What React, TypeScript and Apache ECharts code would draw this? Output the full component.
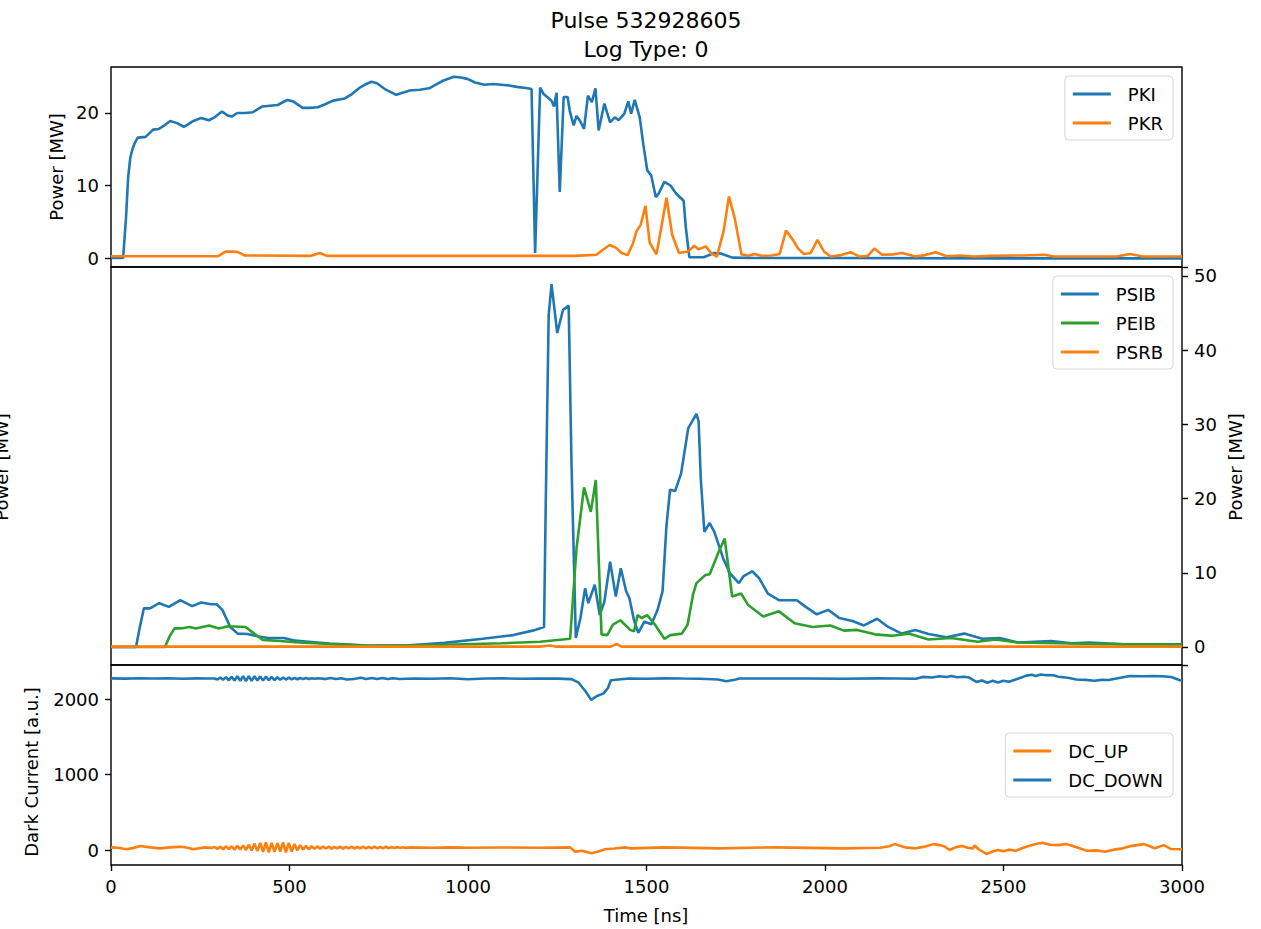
import React, { useEffect, useRef } from "react";
import * as echarts from "echarts";

// ---------- ticks ----------
const timeTicks = [0, 500, 1000, 1500, 2000, 2500, 3000];
const pkTicks = [0, 10, 20];
const beamTicks = [0, 10, 20, 30, 40, 50];
const dcTicks = [0, 1000, 2000];

// ---------- klystron power [ns, MW] ----------
const PKI: [number, number][] = [
  [0, 0], [34, 0], [42, 5.5], [48, 11.1], [54, 13.8], [60, 15.0], [66, 15.8], [75, 16.6], [97, 16.7], [118, 17.7], [134, 17.8],
  [150, 18.3], [166, 18.9], [185, 18.6], [204, 18.1], [218, 18.5], [231, 18.9], [252, 19.3], [274, 19.0], [290, 19.4], [311, 20.2],
  [325, 19.7], [338, 19.5], [354, 20.0], [375, 20.0], [397, 20.1], [424, 20.9], [445, 21.0], [467, 21.1], [494, 21.8], [510, 21.6], [537, 20.7],
  [558, 20.7], [579, 20.8], [600, 21.2], [622, 21.7], [655, 22.0], [675, 22.6], [697, 23.5], [715, 24.0], [730, 24.3], [745, 24.1], [767, 23.3], [799, 22.5],
  [837, 23.1], [865, 23.2], [891, 23.4], [910, 23.9], [928, 24.4], [960, 25.0], [980, 24.9], [998, 24.7], [1020, 24.2], [1046, 23.9], [1070, 24.0], [1094, 23.9], [1115, 23.8], [1137, 23.6],
  [1167, 23.4], [1178, 23.3], [1188, 0.7], [1202, 23.5], [1212, 22.6], [1234, 21.7], [1241, 20.9],
  [1248, 22.8], [1257, 9.1], [1268, 22.2], [1279, 22.2], [1285, 20.3], [1296, 18.3], [1304, 19.6],
  [1314, 18.9], [1325, 17.8], [1336, 22.4], [1347, 21.5], [1357, 23.4], [1366, 17.6], [1382, 21.3],
  [1398, 18.7], [1411, 19.4], [1422, 19.0], [1438, 19.9], [1449, 21.6], [1457, 19.9], [1467, 21.8],
  [1481, 19.4], [1491, 15.7], [1502, 12.1], [1513, 11.4], [1526, 8.4], [1534, 8.9], [1550, 10.5],
  [1567, 10.0], [1583, 8.9], [1604, 7.9], [1610, 4.3], [1620, 0.1], [1660, 0.1], [1690, 0.7], [1710, 0.6],
  [1740, 0.05], [1800, 0.0], [2000, 0.0], [2500, -0.05], [3000, -0.05],
];
const PKR: [number, number][] = [
  [0, 0.25], [300, 0.25], [322, 0.9], [354, 0.85], [375, 0.35], [560, 0.3], [585, 0.7], [605, 0.3],
  [1300, 0.3], [1360, 0.45], [1380, 1.2], [1397, 1.8], [1415, 1.4], [1430, 0.7], [1447, 0.4], [1462, 2.0],
  [1472, 3.7], [1484, 4.6], [1497, 7.2], [1509, 2.1], [1528, 0.5], [1541, 4.1], [1556, 8.3], [1572, 3.2],
  [1591, 0.7], [1616, 0.9], [1634, 1.7], [1645, 1.2], [1651, 1.3], [1666, 1.6], [1682, 0.6], [1697, 0.2],
  [1716, 3.7], [1731, 8.5], [1747, 5.5], [1766, 0.5], [1785, 0.3], [1803, 0.55], [1822, 0.3], [1850, 0.35],
  [1873, 0.55], [1891, 3.8], [1910, 2.5], [1925, 1.3], [1941, 0.55], [1960, 0.7], [1979, 2.5], [1997, 0.9],
  [2016, 0.2], [2045, 0.4], [2072, 0.8], [2097, 0.2], [2120, 0.3], [2138, 1.3], [2160, 0.45], [2190, 0.5],
  [2216, 0.7], [2253, 0.2], [2280, 0.4], [2310, 0.8], [2341, 0.25], [2379, 0.35], [2416, 0.2], [2466, 0.3],
  [2554, 0.35], [2616, 0.45], [2641, 0.2], [2816, 0.2], [2854, 0.55], [2891, 0.2], [3000, 0.2],
];

// ---------- beam power [ns, MW] ----------
const PSIB: [number, number][] = [
  [0, 0], [70, 0], [80, 2.5], [92, 5.2], [109, 5.2], [135, 5.9], [162, 5.4], [194, 6.3], [227, 5.5],
  [253, 6.0], [280, 5.75], [296, 5.75], [312, 5.0], [334, 2.7], [355, 1.8], [382, 1.75], [414, 1.4],
  [441, 1.2], [484, 1.2], [516, 0.85], [553, 0.7], [612, 0.45], [720, 0.2], [827, 0.2], [934, 0.55],
  [1041, 1.1], [1127, 1.6], [1181, 2.2], [1213, 2.7], [1218, 20], [1226, 44.7], [1234, 48.9], [1250, 42.3],
  [1266, 45.4], [1282, 46.0], [1290, 24.5], [1302, 1.2], [1315, 3.9], [1328, 7.9], [1337, 5.9], [1355, 8.4],
  [1369, 4.3], [1382, 6.1], [1398, 11.5], [1414, 6.8], [1428, 10.6], [1443, 7.5], [1452, 6.6], [1465, 3.6],
  [1477, 1.9], [1494, 3.4], [1514, 3.05], [1531, 5.0], [1545, 7.5], [1556, 16.4], [1566, 21.2], [1580, 21.0],
  [1597, 23.4], [1617, 29.5], [1640, 31.4], [1646, 30.4], [1652, 22.7], [1662, 15.5], [1677, 16.7],
  [1690, 15.5], [1715, 11.9], [1734, 9.9], [1759, 8.6], [1771, 9.5], [1796, 10.2], [1815, 9.3], [1840, 7.2],
  [1871, 6.3], [1902, 6.3], [1921, 6.3], [1946, 5.4], [1977, 4.4], [2009, 5.0], [2040, 3.9], [2077, 3.5],
  [2109, 2.9], [2146, 3.8], [2177, 2.7], [2215, 1.8], [2253, 2.3], [2290, 1.75], [2340, 1.3], [2390, 1.8],
  [2440, 1.1], [2490, 1.2], [2540, 0.6], [2634, 0.8], [2690, 0.5], [2740, 0.6], [2840, 0.35], [3000, 0.35],
];
const PEIB: [number, number][] = [
  [0, 0], [151, 0], [165, 1.5], [178, 2.5], [194, 2.5], [221, 2.7], [237, 2.5], [275, 2.9], [302, 2.5],
  [328, 2.8], [377, 2.7], [393, 2.1], [425, 0.95], [473, 0.8], [527, 0.6], [612, 0.4], [720, 0.15],
  [934, 0.3], [1095, 0.5], [1202, 0.7], [1286, 1.1], [1304, 13.3], [1325, 21.5], [1344, 18.2], [1358, 22.5],
  [1374, 1.7], [1390, 1.6], [1406, 3.0], [1427, 3.6], [1454, 2.3], [1465, 2.1], [1475, 4.3], [1486, 3.9],
  [1502, 4.3], [1524, 3.0], [1550, 1.1], [1567, 1.6], [1599, 1.8], [1615, 3.0], [1631, 7.2], [1640, 8.6],
  [1665, 9.7], [1677, 9.8], [1702, 12.8], [1719, 14.6], [1740, 6.8], [1765, 7.2], [1784, 5.7], [1827, 4.1],
  [1871, 4.8], [1915, 3.2], [1965, 2.7], [2015, 2.9], [2053, 2.2], [2090, 2.3], [2140, 1.7], [2190, 1.5],
  [2234, 1.8], [2290, 1.0], [2353, 1.2], [2428, 0.7], [2478, 1.0], [2540, 0.6], [2653, 0.5], [2840, 0.35],
  [3000, 0.3],
];
const PSRB: [number, number][] = [
  [0, 0.05], [1200, 0.05], [1230, 0.2], [1245, 0.05], [1400, 0.05], [1417, 0.4], [1430, 0.05], [3000, 0.05],
];

// ---------- dark current [ns, a.u.] ----------
const DC_UP: [number, number][] = [
  [0, 35], [20, 30], [43, 9], [60, 25], [82, 52], [110, 35], [137, 22], [165, 35], [196, 44], [215, 30],
  [230, 9], [250, 25], [264, 35], [280, 28], [290, 40], [298, 15], [306, 45], [314, 10], [322, 48], [330, 12],
  [338, 50], [346, 5], [354, 55], [362, 8], [370, 60], [378, 0], [386, 70], [394, -5], [402, 85], [410, -15],
  [418, 95], [426, -25], [434, 100], [442, -30], [450, 95], [458, -25], [466, 90], [474, -20], [482, 100],
  [490, -30], [498, 95], [506, -20], [514, 80], [522, -5], [530, 65], [538, 5], [546, 55], [554, 10],
  [562, 50], [570, 15], [578, 48], [586, 18], [594, 45], [602, 20], [610, 45], [618, 18], [626, 42], [634, 20],
  [642, 45], [650, 18], [658, 42], [666, 20], [674, 44], [682, 18], [690, 42], [698, 22], [706, 44], [714, 20],
  [722, 42], [730, 22], [738, 45], [746, 20], [754, 42], [762, 22], [770, 44], [778, 22], [786, 40], [794, 25],
  [802, 40], [810, 25], [818, 38], [826, 28], [840, 35], [900, 30], [950, 35], [1000, 30], [1100, 33],
  [1200, 30], [1286, 35], [1300, -22], [1320, -10], [1345, -44], [1365, -20], [1384, 9], [1410, 20],
  [1440, 35], [1454, 22], [1554, 35], [1704, 22], [1854, 35], [2054, 22], [2154, 30], [2180, 50], [2196, 78],
  [2210, 55], [2224, 35], [2254, 22], [2280, 45], [2304, 78], [2320, 65], [2334, 50], [2349, 0], [2365, 35],
  [2384, 52], [2400, 30], [2414, 20], [2419, 60], [2430, 10], [2452, -52], [2470, -20], [2484, 0],
  [2500, -15], [2515, 5], [2534, -9], [2550, 20], [2564, 44], [2590, 80], [2609, 96], [2630, 70], [2654, 65],
  [2675, 80], [2694, 52], [2715, 20], [2734, -9], [2760, -5], [2784, -22], [2810, 5], [2834, 22], [2860, 55],
  [2894, 78], [2910, 50], [2924, 22], [2949, 65], [2969, 13], [2994, 9], [3000, 9],
];
const DC_DOWN: [number, number][] = [
  [0, 2278], [40, 2274], [80, 2280], [120, 2275], [160, 2279], [200, 2273], [240, 2278], [270, 2276],
  [290, 2275], [298, 2262], [306, 2290], [314, 2258], [322, 2295], [330, 2252], [338, 2300], [346, 2248],
  [354, 2305], [362, 2245], [370, 2308], [378, 2243], [386, 2308], [394, 2245], [402, 2305], [410, 2248],
  [418, 2303], [426, 2250], [434, 2300], [442, 2252], [450, 2298], [458, 2255], [466, 2293], [474, 2258],
  [482, 2290], [490, 2262], [498, 2287], [506, 2265], [514, 2285], [522, 2266], [530, 2283], [538, 2268],
  [546, 2282], [554, 2270], [562, 2280], [570, 2272], [578, 2278], [590, 2275], [600, 2268], [615, 2282],
  [630, 2270], [645, 2280], [660, 2262], [680, 2270], [700, 2285], [715, 2270], [730, 2283], [745, 2268],
  [760, 2282], [775, 2268], [790, 2280], [810, 2270], [850, 2276], [900, 2272], [950, 2280], [1000, 2265],
  [1050, 2275], [1100, 2278], [1150, 2273], [1200, 2276], [1250, 2274], [1290, 2268], [1310, 2220],
  [1330, 2100], [1345, 1992], [1360, 2040], [1380, 2079], [1392, 2150], [1400, 2253], [1450, 2275],
  [1500, 2272], [1550, 2278], [1600, 2275], [1650, 2273], [1700, 2262], [1724, 2240], [1750, 2262],
  [1760, 2275], [1850, 2275], [1950, 2276], [2050, 2272], [2150, 2278], [2200, 2275], [2254, 2272],
  [2274, 2297], [2300, 2290], [2320, 2305], [2340, 2295], [2354, 2310], [2370, 2292], [2390, 2300],
  [2404, 2288], [2424, 2231], [2440, 2250], [2455, 2220], [2470, 2245], [2484, 2222], [2500, 2245],
  [2515, 2232], [2534, 2262], [2550, 2290], [2564, 2314], [2580, 2325], [2590, 2310], [2604, 2330],
  [2620, 2320], [2640, 2318], [2654, 2300], [2680, 2285], [2704, 2262], [2730, 2258], [2754, 2245],
  [2775, 2258], [2794, 2255], [2820, 2280], [2854, 2310], [2890, 2305], [2920, 2308], [2944, 2305],
  [2970, 2295], [2994, 2253], [3000, 2250],
];

const BLUE = "#1f77b4";
const ORANGE = "#ff7f0e";
const GREEN = "#2ca02c";
const FONT = "DejaVu Sans";
const FS = 18;

const txt = (text: string, x: number, y: number, size = FS, rotation = 0) => ({
  type: "text",
  x,
  y,
  rotation,
  style: {
    text,
    fontFamily: FONT,
    fontSize: size,
    fill: "#000",
    align: "center",
    verticalAlign: "middle",
  },
});

const tickStyle = { length: 6, inside: false, lineStyle: { color: "#000", width: 1.4 } };
const labelStyle = {
  margin: 12,
  fontFamily: FONT,
  fontSize: FS,
  color: "#000",
  formatter: (v: number) => String(v),
};

const xAx = (grid: number, ticks: number[] | null) => ({
  type: "value",
  gridIndex: grid,
  min: 0,
  max: 3000,
  interval: 500,
  axisLine: { show: false, onZero: false },
  splitLine: { show: false },
  axisTick: ticks ? { show: true, ...tickStyle, customValues: ticks } : { show: false },
  axisLabel: ticks ? { show: true, ...labelStyle, customValues: ticks } : { show: false },
});

const yAx = (grid: number, min: number, max: number, ticks: number[], position: string) => ({
  type: "value",
  gridIndex: grid,
  min,
  max,
  position,
  axisLine: { show: false, onZero: false },
  splitLine: { show: false },
  axisTick: { show: true, ...tickStyle, customValues: ticks },
  axisLabel: { show: true, ...labelStyle, customValues: ticks },
});

// right-hand beam-power axis: ticks from the automatic nice scale (10 MW steps)
const rightY = (grid: number, min: number, max: number, ticks: number[]) => ({
  type: "value",
  gridIndex: grid,
  min,
  max,
  position: "right",
  splitNumber: 5,
  axisLine: { show: false, onZero: false },
  splitLine: { show: false },
  axisTick: { show: true, ...tickStyle },
  axisLabel: { show: true, ...labelStyle, customValues: ticks },
});

const line = (name: string, data: [number, number][], color: string, xi: number, yi: number, z: number) => ({
  name,
  type: "line",
  data,
  xAxisIndex: xi,
  yAxisIndex: yi,
  showSymbol: false,
  symbol: "none",
  clip: true,
  z,
  lineStyle: { color, width: 2.6 },
  itemStyle: { color },
  emphasis: { disabled: true },
});

const legend = (names: string[], top: number) => ({
  data: names,
  orient: "vertical",
  right: 88,
  top,
  icon: "rect",
  itemWidth: 38,
  itemHeight: 3,
  itemGap: 9,
  padding: [8, 10, 7, 8],
  backgroundColor: "rgba(255,255,255,0.8)",
  borderColor: "#d6d6d6",
  borderWidth: 1,
  borderRadius: 4,
  selectedMode: false,
  textStyle: {
    fontFamily: FONT,
    fontSize: FS,
    color: "#000",
    lineHeight: 20,
    padding: [0, 0, 0, 12],
  },
});

export default function App() {
  const ref = useRef<HTMLDivElement>(null);
  useEffect(() => {
    document.body.style.margin = "0";
    const chart = echarts.init(ref.current!, null, { renderer: "svg" });
    const gridStyle = { show: true, borderColor: "#000", borderWidth: 1.4, backgroundColor: "transparent" };
    chart.setOption({
      animation: false,
      backgroundColor: "#fff",
      grid: [
        { left: 111, top: 67, width: 1071, height: 200, ...gridStyle },
        { left: 111, top: 267, width: 1071, height: 398, ...gridStyle },
        { left: 111, top: 665, width: 1071, height: 200, ...gridStyle },
      ],
      xAxis: [xAx(0, null), xAx(1, null), xAx(2, timeTicks)],
      yAxis: [
        yAx(0, -1.24, 26.34, pkTicks, "left"),
        rightY(1, -2.43, 51.2, beamTicks),
        yAx(2, -199, 2455, dcTicks, "left"),
      ],
      legend: [
        legend(["PKI", "PKR"], 76),
        legend(["PSIB", "PEIB", "PSRB"], 276),
        legend(["DC_UP", "DC_DOWN"], 733),
      ],
      series: [
        line("PKI", PKI, BLUE, 0, 0, 2),
        line("PKR", PKR, ORANGE, 0, 0, 3),
        line("PSIB", PSIB, BLUE, 1, 1, 2),
        line("PEIB", PEIB, GREEN, 1, 1, 3),
        line("PSRB", PSRB, ORANGE, 1, 1, 4),
        line("DC_UP", DC_UP, ORANGE, 2, 2, 2),
        line("DC_DOWN", DC_DOWN, BLUE, 2, 2, 3),
      ],
      graphic: [
        txt("Pulse 532928605", 646, 20, 22),
        txt("Log Type: 0", 646, 49, 22),
        txt("Power [MW]", 56, 167, FS, Math.PI / 2),
        txt("Power [MW]", 1, 467, FS, Math.PI / 2),
        txt("Power [MW]", 1235, 467, FS, Math.PI / 2),
        txt("Dark Current [a.u.]", 31, 772, FS, Math.PI / 2),
        txt("Time [ns]", 646, 915, FS),
      ],
    });
    return () => chart.dispose();
  }, []);
  return <div ref={ref} style={{ width: 1261, height: 929 }} />;
}
